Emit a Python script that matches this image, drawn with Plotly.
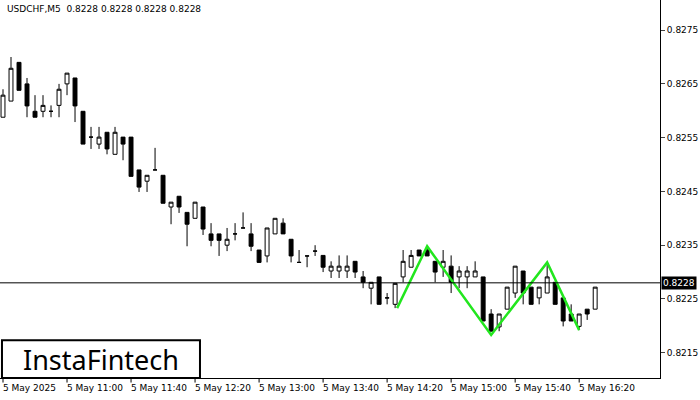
import plotly.graph_objects as go

idx = list(range(75))
opens = [.82588,.82618,.82690,.82650,.82599,.82599,.82599,.82610,.82650,.82661,
         .82599,.82551,.82538,.82560,.82519,.82551,.82551,.82490,.82469,.82490,
         .82480,.82421,.82441,.82411,.82400,.82421,.82371,.82371,.82350,.82371,
         .82382,.82371,.82341,.82330,.82371,.82391,.82361,.82318,.82330,.82339,
         .82331,.82302,.82302,.82302,.82320,.82291,.82270,.82291,.82252,.82240,
         .82291,.82309,.82341,.82341,.82320,.82309,.82311,.82291,.82291,.82291,
         .82291,.82222,.82198,.82231,.82261,.82302,.82272,.82252,.82261,.82281,
         .82252,.82222,.82199,.82231,.82231]
highs = [.82640,.82700,.82690,.82661,.82629,.82629,.82610,.82650,.82670,.82661,
         .82599,.82570,.82570,.82560,.82570,.82551,.82551,.82490,.82480,.82531,
         .82480,.82430,.82441,.82411,.82430,.82421,.82391,.82371,.82382,.82391,
         .82411,.82391,.82341,.82382,.82400,.82400,.82361,.82341,.82330,.82350,
         .82331,.82320,.82331,.82331,.82320,.82302,.82281,.82291,.82261,.82279,
         .82341,.82341,.82341,.82348,.82320,.82341,.82331,.82311,.82311,.82320,
         .82291,.82231,.82222,.82272,.82311,.82302,.82272,.82272,.82318,.82281,
         .82252,.82240,.82222,.82231,.82272]
lows = [.82588,.82618,.82638,.82588,.82588,.82588,.82588,.82588,.82629,.82579,
        .82538,.82529,.82529,.82519,.82519,.82508,.82478,.82449,.82449,.82490,
        .82428,.82389,.82410,.82348,.82400,.82369,.82348,.82330,.82339,.82359,
        .82382,.82339,.82318,.82318,.82371,.82371,.82318,.82318,.82309,.82330,
        .82300,.82289,.82289,.82289,.82289,.82270,.82240,.82240,.82240,.82233,
        .82281,.82309,.82330,.82330,.82281,.82291,.82261,.82270,.82270,.82291,
        .82209,.82190,.82190,.82231,.82252,.82240,.82240,.82240,.82261,.82240,
        .82199,.82209,.82192,.82211,.82231]
closes = [.82629,.82679,.82638,.82609,.82588,.82610,.82599,.82640,.82670,.82609,
          .82538,.82551,.82551,.82529,.82560,.82538,.82478,.82458,.82480,.82490,
          .82428,.82430,.82421,.82389,.82430,.82380,.82359,.82359,.82361,.82371,
          .82382,.82348,.82318,.82382,.82400,.82371,.82330,.82318,.82330,.82339,
          .82309,.82311,.82311,.82311,.82300,.82281,.82281,.82240,.82252,.82279,
          .82320,.82331,.82330,.82330,.82300,.82320,.82281,.82302,.82302,.82302,
          .82209,.82190,.82222,.82272,.82311,.82261,.82240,.82272,.82291,.82240,
          .82209,.82209,.82222,.82222,.82272]

pattern_x = [49.25, 53, 61, 68, 72]
pattern_y = [.82233, .82348, .82183, .82318, .82192]

tick_idx = [0, 8, 16, 24, 32, 40, 48, 56, 64, 72]
tick_text = ["5 May 2025", "5 May 11:00", "5 May 11:40", "5 May 12:20", "5 May 13:00",
             "5 May 13:40", "5 May 14:20", "5 May 15:00", "5 May 15:40", "5 May 16:20"]
price_ticks = [0.8215, 0.8225, 0.8235, 0.8245, 0.8255, 0.8265, 0.8275]
current = 0.8228

fig = go.Figure()
fig.add_trace(go.Candlestick(
    x=idx, open=opens, high=highs, low=lows, close=closes,
    increasing=dict(line=dict(color="black", width=1), fillcolor="white"),
    decreasing=dict(line=dict(color="black", width=1), fillcolor="black"),
    whiskerwidth=0, showlegend=False, hoverinfo="skip"))
fig.add_trace(go.Scatter(x=pattern_x, y=pattern_y, mode="lines",
                         line=dict(color="#22e61e", width=2.5), showlegend=False))
fig.add_hline(y=current, line=dict(color="black", width=1))

fig.update_layout(
    width=700, height=400, margin=dict(l=0, r=40, t=0, b=22),
    paper_bgcolor="white", plot_bgcolor="white",
    font=dict(family="DejaVu Sans", size=9, color="black"),
    xaxis=dict(range=[-0.375, 82.1], showgrid=False, zeroline=False, automargin=False,
               showticklabels=False, rangeslider=dict(visible=False),
               showline=True, linecolor="black", mirror=False, ticks=""),
    yaxis=dict(range=[0.82103, 0.82806], side="right", showgrid=False, automargin=False,
               zeroline=False, tickvals=price_ticks,
               ticktext=[f"{v:.4f}" for v in price_ticks],
               ticks="outside", ticklen=4, showline=True, linecolor="black"),
)
for i, t in zip(tick_idx, tick_text):
    fig.add_annotation(x=i, y=0, xref="x", yref="paper", yanchor="top",
                       xanchor="left", text=t, showarrow=False,
                       font=dict(size=9), xshift=-2, yshift=-3)
    fig.add_shape(type="line", x0=i, x1=i, y0=0, y1=-0.012, xref="x", yref="paper",
                  line=dict(color="black", width=1))
fig.add_annotation(x=1, y=current, xref="paper", yref="y", xanchor="left",
                   text="0.8228", showarrow=False, bgcolor="black",
                   font=dict(color="white", size=9), xshift=1)
fig.add_annotation(x=0.007, y=0.995, xref="paper", yref="paper", xanchor="left",
                   yanchor="top", text="USDCHF,M5  0.8228 0.8228 0.8228 0.8228",
                   showarrow=False, font=dict(size=9))
fig.add_shape(type="rect", xref="paper", yref="paper", x0=0.003, x1=0.303,
              y0=0.0, y1=0.1, line=dict(color="black", width=2), fillcolor="white")
fig.add_annotation(x=0.153, y=0.05, xref="paper", yref="paper", text="InstaFintech",
                   xanchor="center", yanchor="middle",
                   showarrow=False, font=dict(family="Noto Sans", size=27, color="black"))

fig.write_html("out.html", config={"displayModeBar": False},
               post_script="document.body.style.margin='0';")
